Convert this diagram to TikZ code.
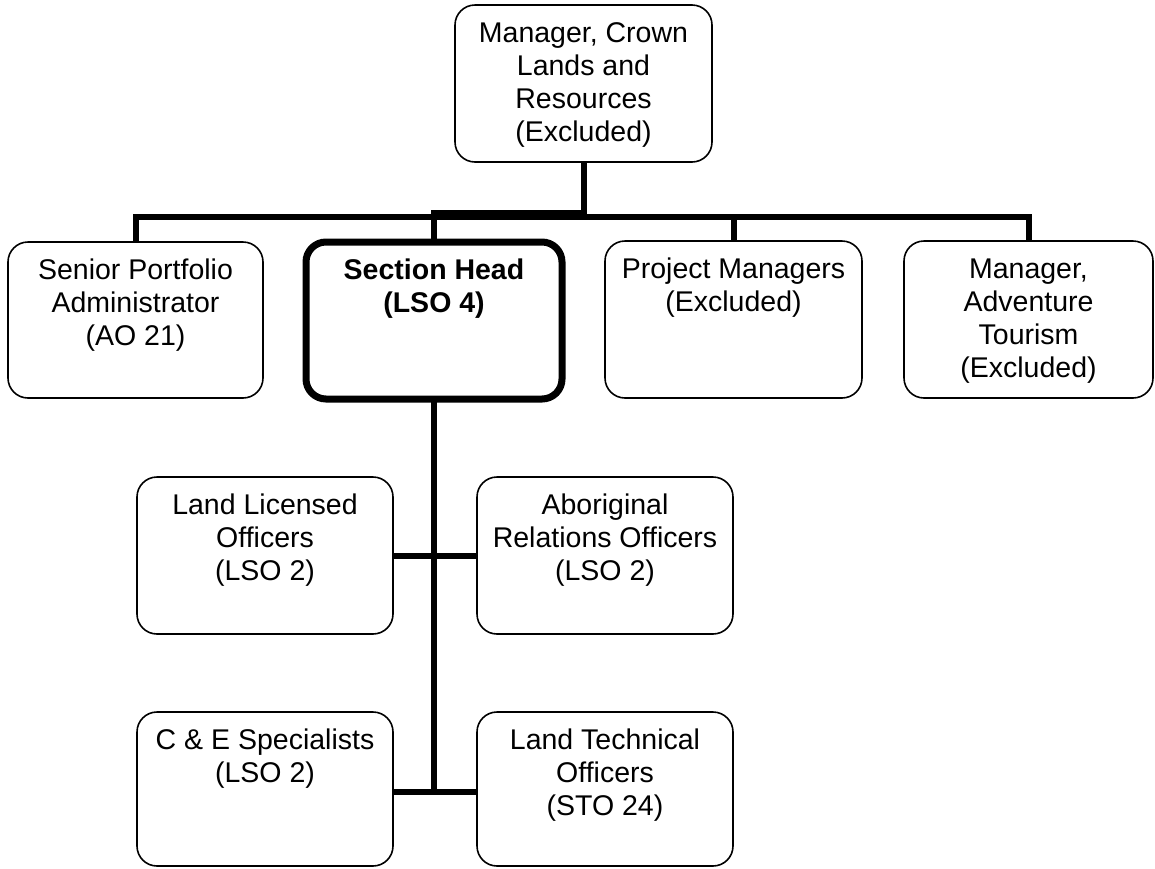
\documentclass[tikz,border=0pt]{standalone}
\usepackage{fontspec}
\setmainfont{Liberation Sans}
\usetikzlibrary{calc}
\newcommand\orgtext[3]{\parbox[t][#2][t]{#1}{\centering\rule{0pt}{37pt}#3}}

\begin{document}
\begin{tikzpicture}[x=1pt,y=-1pt,
  orgbox/.style={draw=black,line width=1.6pt,rounded corners=20pt,inner sep=0pt,outer sep=0pt,anchor=north west,font=\fontsize{28.5}{33}\selectfont},
  headbox/.style={orgbox,line width=7pt,font=\fontsize{28.5}{33}\selectfont\bfseries},
  conn/.style={black,line width=6pt}]

\useasboundingbox (0,0) rectangle (1155,868);

\node[orgbox] (mgr) at (455,5) {\orgtext{257pt}{157pt}{Manager, Crown\\Lands and\\Resources\\(Excluded)}};

\node[orgbox] (spa) at (8,242) {\orgtext{255pt}{156pt}{Senior Portfolio\\Administrator\\(AO 21)}};
\node[headbox] (head) at (306,242) {\orgtext{256pt}{157pt}{Section Head\\(LSO 4)}};
\node[orgbox] (pm) at (605,241) {\orgtext{257pt}{157pt}{Project Managers\\(Excluded)}};
\node[orgbox] (adv) at (904,241) {\orgtext{249pt}{157pt}{Manager,\\Adventure\\Tourism\\(Excluded)}};

\node[orgbox] (llo) at (137,477) {\orgtext{256pt}{157pt}{Land Licensed\\Officers\\(LSO 2)}};
\node[orgbox] (aro) at (477,477) {\orgtext{256pt}{157pt}{Aboriginal\\Relations Officers\\(LSO 2)}};
\node[orgbox] (ces) at (137,712) {\orgtext{256pt}{154pt}{C \& E Specialists\\(LSO 2)}};
\node[orgbox] (lto) at (477,712) {\orgtext{256pt}{154pt}{Land Technical\\Officers\\(STO 24)}};

\coordinate (bar) at (584,217);
\coordinate (barhi) at (584,213);
\coordinate (tend) at (434,792);

\draw[conn] (mgr.south) -- (mgr.south |- bar) -| (spa.north);
\draw[conn] (mgr.south) -- (mgr.south |- barhi) -| (head.north);
\draw[conn] (mgr.south |- bar) -| (pm.north);
\draw[conn] (mgr.south |- bar) -| (adv.north);

\draw[conn] (head.south) -- (tend);
\draw[conn] (llo.east) -- (aro.west);
\draw[conn] (ces.east |- tend) -- (lto.west |- tend);

\end{tikzpicture}
\end{document}
